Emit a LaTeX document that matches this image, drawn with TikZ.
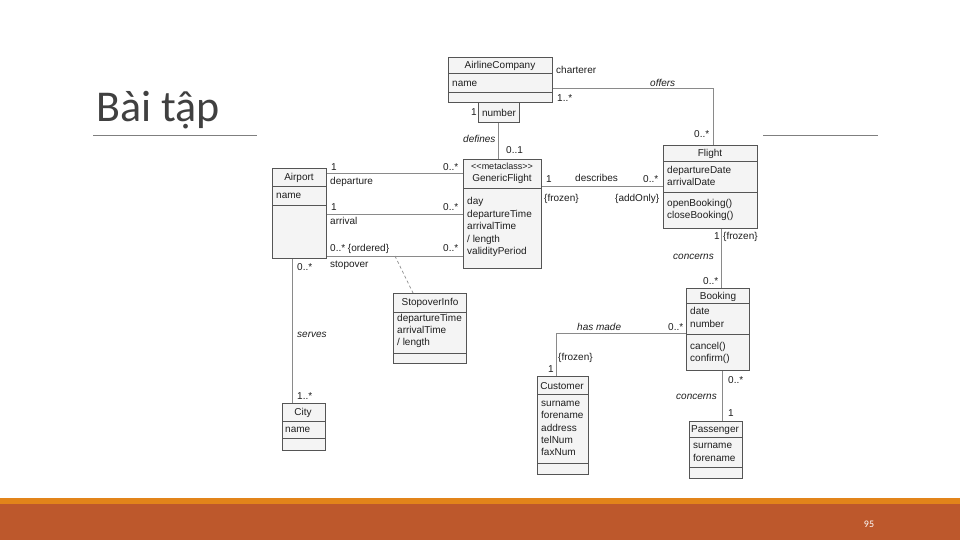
\documentclass[tikz,border=0pt]{standalone}
\usepackage{fontspec}
\setmainfont{Liberation Sans}
\newfontfamily\titlefont{Carlito}
\definecolor{boxc}{HTML}{555555}
\definecolor{boxf}{HTML}{F4F4F4}
\definecolor{linec}{HTML}{8A8A8A}
\definecolor{txtc}{HTML}{1E1E1E}
\definecolor{titlec}{HTML}{404040}
\definecolor{rulec}{HTML}{7F7F7F}
\definecolor{barOr}{HTML}{E2841A}
\definecolor{barBr}{HTML}{BD582C}
\tikzset{
  cls/.style={draw=boxc, fill=boxf, line width=0.9pt, inner sep=0pt, anchor=north west},
  sepline/.style={draw=boxc, line width=0.7pt},
  assoc/.style={draw=linec, line width=1pt},
  lbl/.style={inner sep=0pt, text height=7pt, text depth=0pt, font=\fontsize{10}{12}\selectfont, text=txtc},
  il/.style={lbl, font=\fontsize{10}{12}\selectfont\itshape},
}
\newcommand\umlbox[5]{\node[cls, minimum width={#4-#2}, minimum height={#5-#3}] (#1) at (#2,#3) {};}
\newcommand\hsep[2]{\draw[sepline] (#1.west |- 0,#2) -- (#1.east |- 0,#2);}
\newcommand\lab[5][]{\node[lbl, anchor=west, #1] (#2) at (#3,#4) {#5};}
\newcommand\attrs[5]{\foreach \t [count=\i] in {#5} {\node[lbl, anchor=west] (#1-\i) at (#2,{#3+#4*(\i-1)}) {\t};}}
\begin{document}
\begin{tikzpicture}[x=1pt,y=-1pt]
\useasboundingbox (0,0) rectangle (960,540);
\fill[white] (0,0) rectangle (960,540);
% slide decorations
\fill[barOr] (0,498) rectangle (960,504);
\fill[barBr] (0,504) rectangle (960,540);
\node[inner sep=0pt, font=\titlefont\fontsize{10}{11}\selectfont, text=white] (pg) at (869,524) {95};
\node[anchor=base west, inner sep=0pt, font=\titlefont\fontsize{44}{50}\selectfont, text=titlec] (title) at (96,122) {Bài tập};
\draw[rulec, line width=1pt] (93,136) coordinate (r1a) -- (257,136) coordinate (r1b);
\draw[rulec, line width=1pt] (763,136) coordinate (r2a) -- (878,136) coordinate (r2b);

% class boxes
\umlbox{AC}{448}{57}{552}{102}
\hsep{AC}{73}\hsep{AC}{92}
\node[cls, font=\fontsize{10}{12}\selectfont, text=txtc, minimum width=41pt, minimum height=20pt] (NUM) at (478,102) {number};

\umlbox{AP}{272}{168}{326}{258}
\hsep{AP}{186}\hsep{AP}{205}

\umlbox{GF}{463}{159}{541}{268}
\hsep{GF}{188}

\umlbox{SI}{393}{293}{466}{363}
\hsep{SI}{312}\hsep{SI}{353}

\umlbox{CI}{282}{403}{325}{450}
\hsep{CI}{421}\hsep{CI}{438}

\umlbox{FL}{663}{145}{757}{228}
\hsep{FL}{161}\hsep{FL}{192}

\umlbox{BK}{686}{288}{749}{370}
\hsep{BK}{303}\hsep{BK}{334}

\umlbox{CU}{537}{376}{588}{474}
\hsep{CU}{394}\hsep{CU}{463}

\umlbox{PA}{689}{421}{742}{478}
\hsep{PA}{437}\hsep{PA}{467}

% connectors
\draw[assoc] (AC.east |- 0,89) -| (713,0 |- FL.north);
\draw[assoc] (NUM.south) -- (NUM.south |- GF.north);
\draw[assoc] (AP.east |- 0,174) -- (GF.west |- 0,174);
\draw[assoc] (AP.east |- 0,214) -- (GF.west |- 0,214);
\draw[assoc] (AP.east |- 0,256) -- (GF.west |- 0,256);
\coordinate (stopA) at (395,256);
\draw[linec, line width=0.7pt, dash pattern=on 3pt off 2.5pt] (stopA) -- ([xshift=20pt]SI.north west);
\draw[assoc] (292,0 |- AP.south) -- (292,0 |- CI.north);
\draw[assoc] (GF.east |- 0,186) -- (FL.west |- 0,186);
\draw[assoc] (721,0 |- FL.south) -- (721,0 |- BK.north);
\draw[assoc] (BK.west |- 0,333) -| (556,0 |- CU.north);
\draw[assoc] (722,0 |- BK.south) -- (722,0 |- PA.north);

% class texts
\node[lbl] (ACn) at (500,65) {AirlineCompany};
\lab{ACa}{452}{83}{name}
\node[lbl] (APn) at (299,177) {Airport};
\lab{APa}{276}{195}{name}
\node[lbl, font=\fontsize{9}{10}\selectfont] (GFs) at (502,166) {<{}<metaclass>{}>};
\node[lbl] (GFn) at (502,178) {GenericFlight};
\attrs{gf}{467}{201}{12.6}{day,departureTime,arrivalTime,{/ length},validityPeriod}
\node[lbl] (SIn) at (430,302) {StopoverInfo};
\attrs{si}{397}{318}{12}{departureTime,arrivalTime,{/ length}}
\node[lbl] (CIn) at (303,412) {City};
\lab{CIa}{285}{429}{name}
\node[lbl] (FLn) at (710,153) {Flight};
\attrs{fla}{667}{170}{12}{departureDate,arrivalDate}
\attrs{flo}{667}{203}{11.5}{openBooking(),closeBooking()}
\node[lbl] (BKn) at (718,296) {Booking};
\attrs{bka}{690}{311}{13}{date,number}
\attrs{bko}{690}{346}{12}{cancel(),confirm()}
\node[lbl] (CUn) at (562,386) {Customer};
\attrs{cu}{541}{403}{12.3}{surname,forename,address,telNum,faxNum}
\node[lbl] (PAn) at (715,429) {Passenger};
\attrs{pa}{693}{445}{13}{surname,forename}

% association labels
\lab{l1}{556}{70}{charterer}
\lab{l2}{557}{98}{1..*}
\lab[il]{l3}{650}{83}{offers}
\lab{l4}{694}{134}{0..*}
\lab{l5}{471}{112}{1}
\lab[il]{l6}{463}{139}{defines}
\lab{l7}{506}{150}{0..1}
\lab{l8}{331}{167}{1}
\lab{l9}{330}{181}{departure}
\lab{l10}{443}{167}{0..*}
\lab{l11}{331}{207}{1}
\lab{l12}{330}{221}{arrival}
\lab{l13}{443}{207}{0..*}
\lab{l14}{330}{248}{0..* \{ordered\}}
\lab{l15}{330}{264}{stopover}
\lab{l16}{443}{248}{0..*}
\lab{l17}{297}{267}{0..*}
\lab[il]{l18}{297}{334}{serves}
\lab{l19}{297}{396}{1..*}
\lab{l20}{546}{179}{1}
\lab{l21}{575}{178}{describes}
\lab{l22}{643}{179}{0..*}
\lab{l23}{544}{198}{\{frozen\}}
\lab{l24}{615}{198}{\{addOnly\}}
\lab{l25}{714}{236}{1}
\lab{l26}{723}{236}{\{frozen\}}
\lab[il]{l27}{673}{256}{concerns}
\lab{l28}{703}{281}{0..*}
\lab[il]{l29}{577}{327}{has made}
\lab{l30}{668}{327}{0..*}
\lab{l31}{558}{357}{\{frozen\}}
\lab{l32}{548}{369}{1}
\lab{l33}{728}{380}{0..*}
\lab[il]{l34}{676}{396}{concerns}
\lab{l35}{728}{413}{1}
\end{tikzpicture}
\end{document}
